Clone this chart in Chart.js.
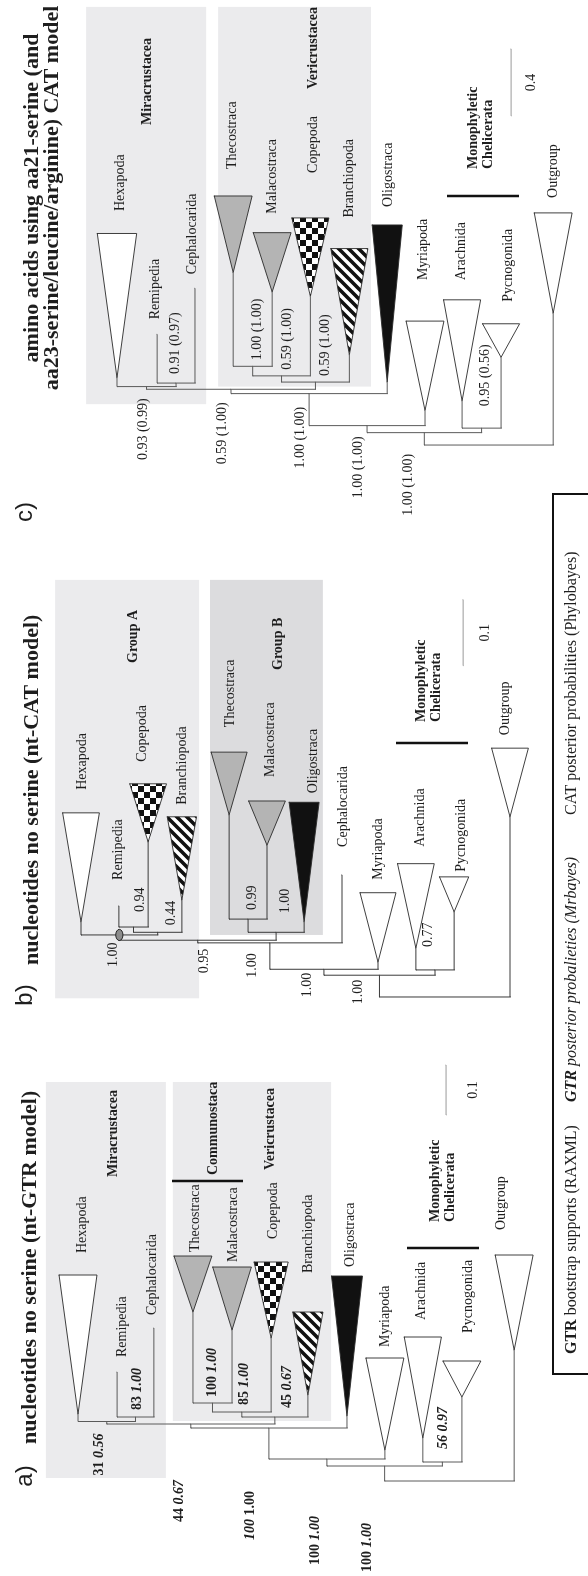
<!DOCTYPE html>
<html>
<head>
<meta charset="utf-8">
<script src="https://cdn.jsdelivr.net/npm/chart.js@4.4.0/dist/chart.umd.min.js"></script>
<style>
html, body { margin: 0; padding: 0; background: #fff; }
#wrap { position: relative; width: 588px; height: 1576px; overflow: hidden; }
#wrap canvas { position: absolute; left: 0; top: 0; }
</style>
</head>
<body>
<div id="wrap">
  <canvas id="panelC" width="588" height="1576"></canvas>
  <canvas id="panelB" width="588" height="1576"></canvas>
  <canvas id="panelA" width="588" height="1576"></canvas>
</div>
<script>
// ---------- a) nucleotides no serine, nt-GTR ----------
const taxaA = ['Hexapoda', 'Remipedia', 'Cephalocarida', 'Thecostraca', 'Malacostraca', 'Copepoda',
  'Branchiopoda', 'Oligostraca', 'Myriapoda', 'Arachnida', 'Pycnogonida', 'Outgroup'];
const slotA = [0, 1.01, 1.96, 2.97, 3.98, 4.99, 5.94, 6.95, 7.93, 8.91, 9.92, 11.27];
const tipDepthA = [0.134, 0.218, 0.306, 0.338, 0.302, 0.286, 0.172, 0.130, 0.062, 0.086, 0.168, 0.262];
const cladeDepthA = [0.412, null, null, 0.450, 0.428, 0.438, 0.338, 0.410, 0.246, 0.288, 0.240, 0.452];
const cladeHalfA = [0.49, 0, 0, 0.49, 0.50, 0.44, 0.39, 0.40, 0.49, 0.48, 0.49, 0.49];
const nodesA = [
  ['remiCeph', ['Remipedia', 'Cephalocarida'], 0.128],
  ['mira', ['Hexapoda', 'remiCeph'], 0.119],
  ['theMal', ['Thecostraca', 'Malacostraca'], 0.156],
  ['n85', ['theMal', 'Copepoda'], 0.138],
  ['veri', ['n85', 'Branchiopoda'], 0.128],
  ['n44', ['mira', 'veri'], 0.114],
  ['pancr', ['n44', 'Oligostraca'], 0.106],
  ['mandib', ['pancr', 'Myriapoda'], 0.044],
  ['cheli', ['Arachnida', 'Pycnogonida'], 0.038],
  ['arthro', ['mandib', 'cheli'], 0.030],
  ['root', ['arthro', 'Outgroup'], 0]
];
// bootstrap (bold) + MrBayes posterior (bold italic)
const supportA = {
  remiCeph: [['83 ', 'b'], ['1.00', 'bi']],
  mira: [['31 ', 'b'], ['0.56', 'bi']],
  theMal: [['100 ', 'b'], ['1.00', 'bi']],
  n85: [['85 ', 'b'], ['1.00', 'bi']],
  veri: [['45 ', 'b'], ['0.67', 'bi']],
  n44: [['44 ', 'b'], ['0.67', 'bi']],
  pancr: [['100 ', 'bi'], ['1.00', 'b']],
  mandib: [['100 ', 'b'], ['1.00', 'bi']],
  arthro: [['100 ', 'b'], ['1.00', 'bi']],
  cheli: [['56 ', 'bi'], ['0.97', 'bi']]
};

// ---------- b) nucleotides no serine, nt-CAT ----------
const taxaB = ['Hexapoda', 'Remipedia', 'Copepoda', 'Branchiopoda', 'Thecostraca', 'Malacostraca',
  'Oligostraca', 'Cephalocarida', 'Myriapoda', 'Arachnida', 'Pycnogonida', 'Outgroup'];
const slotB = [0, 1.01, 1.79, 2.69, 3.95, 4.96, 5.95, 6.96, 7.92, 8.93, 9.95, 11.44];
const tipDepthB = [0.114, 0.138, 0.235, 0.147, 0.276, 0.230, 0.114, 0.185, 0.053, 0.074, 0.129, 0.273];
const cladeDepthB = [0.279, null, 0.323, 0.273, 0.371, 0.297, 0.295, null, 0.158, 0.202, 0.182, 0.377];
const cladeHalfB = [0.49, 0, 0.49, 0.39, 0.48, 0.49, 0.40, 0, 0.48, 0.49, 0.39, 0.49];
const nodesB = [
  ['remiCope', ['Remipedia', 'Copepoda'], 0.106],
  ['copeBra', ['remiCope', 'Branchiopoda'], 0.098],
  ['groupA', ['Hexapoda', 'copeBra'], 0.094],
  ['theMal', ['Thecostraca', 'Malacostraca'], 0.118],
  ['groupB', ['theMal', 'Oligostraca'], 0.098],
  ['ab', ['groupA', 'groupB'], 0.086],
  ['abCeph', ['ab', 'Cephalocarida'], 0.082],
  ['mandib', ['abCeph', 'Myriapoda'], 0.042],
  ['cheli', ['Arachnida', 'Pycnogonida'], 0.041],
  ['arthro', ['mandib', 'cheli'], 0.033],
  ['root', ['arthro', 'Outgroup'], 0]
];
const supportB = {
  remiCope: '0.94', copeBra: '0.44', groupA: '1.00', theMal: '0.99', groupB: '1.00',
  ab: '0.95', abCeph: '1.00', mandib: '1.00', arthro: '1.00', cheli: '0.77'
};

// ---------- c) amino acids, CAT ----------
const taxaC = ['Hexapoda', 'Remipedia', 'Cephalocarida', 'Thecostraca', 'Malacostraca', 'Copepoda',
  'Branchiopoda', 'Oligostraca', 'Myriapoda', 'Arachnida', 'Pycnogonida', 'Outgroup'];
const slotC = [0, 1.04, 2.02, 3.01, 4.02, 5.01, 6.02, 7.00, 7.98, 8.94, 9.95, 11.30];
const tipDepthC = [0.402, 0.661, 0.936, 1.030, 0.914, 0.888, 0.539, 0.376, 0.207, 0.264, 0.524, 0.787];
const cladeDepthC = [1.263, null, null, 1.487, 1.268, 1.356, 1.173, 1.314, 0.740, 0.867, 0.724, 1.386];
const cladeHalfC = [0.51, 0, 0, 0.49, 0.49, 0.48, 0.48, 0.39, 0.49, 0.48, 0.48, 0.49];
const nodesC = [
  ['remiCeph', ['Remipedia', 'Cephalocarida'], 0.370],
  ['mira', ['Hexapoda', 'remiCeph'], 0.349],
  ['theMal', ['Thecostraca', 'Malacostraca'], 0.470],
  ['n59', ['theMal', 'Copepoda'], 0.413],
  ['veri', ['n59', 'Branchiopoda'], 0.376],
  ['miraVeri', ['mira', 'veri'], 0.333],
  ['pancr', ['miraVeri', 'Oligostraca'], 0.307],
  ['mandib', ['pancr', 'Myriapoda'], 0.116],
  ['cheli', ['Arachnida', 'Pycnogonida'], 0.101],
  ['arthro', ['mandib', 'cheli'], 0.074],
  ['root', ['arthro', 'Outgroup'], 0]
];
const supportC = {
  remiCeph: '0.91 (0.97)', mira: '0.93 (0.99)', theMal: '1.00 (1.00)', n59: '0.59 (1.00)',
  veri: '0.59 (1.00)', miraVeri: '0.59 (1.00)', pancr: '1.00 (1.00)', mandib: '1.00 (1.00)',
  cheli: '0.95 (0.56)', arthro: '1.00 (1.00)'
};

// ---------- layout / style ----------
const SERIF = '"Liberation Serif", "Times New Roman", serif';
const SANS = '"Liberation Sans", Arial, sans-serif';
const FONT = {
  r: '14px ' + SERIF, b: 'bold 14px ' + SERIF, bi: 'italic bold 14px ' + SERIF,
  title: 'bold 22px ' + SERIF, letter: '24px ' + SANS,
  lr: '16px ' + SERIF, lb: 'bold 16px ' + SERIF, li: 'italic 16px ' + SERIF, lbi: 'italic bold 16px ' + SERIF
};
const TEXT = '#1e1e1e';

const layoutA = {
  xRange: [-2.016, 13.178], depthRange: [-0.19, 2.962], lineColor: '#5a5a5a',
  fill: ['white', '', '', 'gray', 'gray', 'check', 'stripe', 'black', 'white', 'white', 'white', 'white'],
  labelOff: [[4, -22], [5, -15], [-2, -13], [2, -4], [1, -5], [2, -23], [0, -39], [3, -9], [0, -11], [-2, -17], [6, -28], [-13, -25]],
  supOff: { remiCeph: [1.5, -7], mira: [-7, 54], theMal: [0, -6], n85: [3, -7], veri: [13, -9], n44: [-11, 98],
    pancr: [-19, 112], mandib: [-12, 106], arthro: [-17, 106], cheli: [1.5, -13] },
  boxes: [[-0.83, 2.27, 0.006, 0.798, '#ebebed'], [2.45, 6.54, 0.120, 0.798, '#ebebed']],
  scaleBar: { slot: 9.51, from: 0.732, len: 0.1, label: '0.1', labelSlot: 10.21 },
  letter: ['a)', 25, 1476],
  titles: [['nucleotides no serine (nt-GTR model)', 30, 1444, 'start']],
  groups: [['Miracrustacea', 113, 1177], ['Communostaca', 213, 1175], ['Vericrustacea', 270, 1170]],
  mono: [435, 450, 1222],
  bars: [[172, 243, 1181], [407, 479, 1248]]
};
const layoutB = {
  xRange: [-2.16, 13.52], depthRange: [-0.8773, 1.5106], lineColor: '#3a3a3a',
  fill: ['white', '', 'check', 'stripe', 'gray', 'gray', 'black', '', 'white', 'white', 'white', 'white'],
  labelOff: [[1, -23], [-1, -26], [-6, -22], [0, -12], [1, -25], [3, -24], [9, -9], [1, -28], [0, -13], [4, -17], [7, -5], [-5, -13]],
  supOff: { remiCope: [6.5, -15], copeBra: [14, -7], groupA: [-6, 32], theMal: [4, -9], groupB: [9, -19], ab: [7, 33],
    abCeph: [-18, 35], mandib: [-17, 28], arthro: [-21, 29], cheli: [-7, -23] },
  boxes: [[-0.69, 3.15, -0.002, 0.632, '#ebebed'], [3.44, 6.45, 0.094, 0.632, '#dcdcde']],
  scaleBar: { slot: 10.19, from: 0.502, len: 0.1, label: '0.1', labelSlot: 10.77 },
  letter: ['b)', 25, 995],
  titles: [['nucleotides no serine (nt-CAT model)', 32, 965, 'start']],
  groups: [['Group A', 133, 663], ['Group B', 278, 670]],
  mono: [421, 436, 722],
  bars: [[396, 468, 743]],
  marker: 'groupA'
};
const layoutC = {
  xRange: [-3.031, 12.202], depthRange: [-6.752, 2.657], lineColor: '#5a5a5a',
  fill: ['white', '', '', 'gray', 'gray', 'check', 'stripe', 'black', 'white', 'white', 'white', 'white'],
  labelOff: [[3, -22.5], [-2, -15], [-3, -14], [-1, -27], [0, -19], [3, -45], [0, -31], [1, -18], [-2, -41], [-1, -19.5], [7, -22], [0, -15]],
  supOff: { remiCeph: [-1, -9], theMal: [4.5, -6], n59: [6, -6], veri: [10, -6], mira: [-3.5, 73.5], miraVeri: [-9, 75],
    pancr: [-9, 75], mandib: [-9, 72.6], arthro: [-16, 83], cheli: [3.5, -22] },
  boxes: [[-0.80, 2.31, 0.244, 2.616, '#ebebed'], [2.62, 6.58, 0.349, 2.616, '#ebebed']],
  scaleBar: { slot: 10.21, from: 1.965, len: 0.4, label: '0.4', labelSlot: 10.73 },
  letter: ['c)', 25, 512],
  titles: [['amino acids using aa21-serine (and', 32, 198, 'center'],
    ['aa23-serine/leucine/arginine) CAT model', 52, 198, 'center']],
  groups: [['Miracrustacea', 147, 125], ['Vericrustacea', 313, 89]],
  mono: [473, 488, 169],
  bars: [[447, 519, 196]]
};
const legendBox = { left: 553, top: 494, bottom: 1374, textX: 572 };
const legendText = [
  [[['GTR', 'lb'], [' bootstrap supports (RAXML)', 'lr']], 1354],
  [[['GTR', 'lbi'], [' posterior probalieties (Mrbayes)', 'li']], 1102],
  [[['CAT posterior probabilities (Phylobayes)', 'lr']], 815]
];

// text rotated to read bottom-to-top
function vText(ctx, x, y, runs, align) {
  ctx.save();
  ctx.translate(x, y);
  ctx.rotate(-Math.PI / 2);
  ctx.textBaseline = 'middle';
  ctx.textAlign = 'left';
  ctx.fillStyle = TEXT;
  let w = 0;
  runs.forEach(r => { ctx.font = FONT[r[1]]; w += ctx.measureText(r[0]).width; });
  let cx = align === 'center' ? -w / 2 : (align === 'end' ? -w : 0);
  runs.forEach(r => {
    ctx.font = FONT[r[1]];
    ctx.fillText(r[0], cx, 0);
    cx += ctx.measureText(r[0]).width;
  });
  ctx.restore();
}

function fillStyles(ctx) {
  const chk = document.createElement('canvas');
  chk.width = chk.height = 12;
  let g = chk.getContext('2d');
  g.fillStyle = '#fff'; g.fillRect(0, 0, 12, 12);
  g.fillStyle = '#111'; g.fillRect(0, 0, 6, 6); g.fillRect(6, 6, 6, 6);
  const str = document.createElement('canvas');
  str.width = str.height = 10;
  g = str.getContext('2d');
  g.fillStyle = '#fff'; g.fillRect(0, 0, 10, 10);
  g.strokeStyle = '#111'; g.lineWidth = 3.6;
  g.beginPath();
  g.moveTo(-5, -5); g.lineTo(15, 15);
  g.moveTo(-5, 5); g.lineTo(5, 15);
  g.moveTo(5, -5); g.lineTo(15, 5);
  g.stroke();
  return {
    white: '#ffffff', gray: '#b4b4b4', black: '#111111',
    check: ctx.createPattern(chk, 'repeat'), stripe: ctx.createPattern(str, 'repeat')
  };
}

function buildPanel(canvasId, taxa, slot, tipDepth, cladeDepth, cladeHalf, nodes, support, L, drawLegend) {
  const ctx = document.getElementById(canvasId).getContext('2d');
  const fills = fillStyles(ctx);
  const pos = {};
  taxa.forEach((t, i) => { pos[t] = { x: slot[i], y: tipDepth[i] }; });
  nodes.forEach(([id, kids, d]) => {
    const xs = kids.map(k => pos[k].x);
    pos[id] = { x: (Math.min(...xs) + Math.max(...xs)) / 2, y: d };
  });

  const datasets = [];
  const seg = (pts, extra) => Object.assign({ data: pts, borderColor: L.lineColor, borderWidth: 1, fill: false }, extra || {});
  nodes.forEach(([id, kids, d]) => {
    const xs = kids.map(k => pos[k].x);
    datasets.push(seg([{ x: Math.min(...xs), y: d }, { x: Math.max(...xs), y: d }]));
    kids.forEach(k => datasets.push(seg([{ x: pos[k].x, y: d }, { x: pos[k].x, y: pos[k].y }])));
  });
  taxa.forEach((t, i) => {
    if (cladeDepth[i] === null) return;
    const x = slot[i], h = cladeHalf[i], base = cladeDepth[i];
    datasets.push({
      data: [{ x: x - h, y: base }, { x: x, y: tipDepth[i] }, { x: x + h, y: base }, { x: x - h, y: base }],
      fill: 'shape', backgroundColor: fills[L.fill[i]], borderColor: '#2a2a2a', borderWidth: 0.9
    });
  });
  const sb = L.scaleBar;
  datasets.push(seg([{ x: sb.slot, y: sb.from }, { x: sb.slot, y: sb.from + sb.len }], { borderColor: '#9a9a9a' }));

  const decor = {
    id: 'decor_' + canvasId,
    beforeDatasetsDraw(chart) {
      const c = chart.ctx, xs = chart.scales.x, ys = chart.scales.y;
      L.boxes.forEach(([x0, x1, d0, d1, col]) => {
        const px0 = xs.getPixelForValue(x0), px1 = xs.getPixelForValue(x1);
        const py0 = ys.getPixelForValue(d1), py1 = ys.getPixelForValue(d0);
        c.fillStyle = col;
        c.fillRect(px0, py0, px1 - px0, py1 - py0);
      });
    },
    afterDatasetsDraw(chart) {
      const c = chart.ctx, xs = chart.scales.x, ys = chart.scales.y;
      // taxon names
      taxa.forEach((t, i) => {
        const d = cladeDepth[i] === null ? tipDepth[i] : cladeDepth[i];
        const off = L.labelOff[i];
        vText(c, xs.getPixelForValue(slot[i]) + off[0], ys.getPixelForValue(d) + off[1], [[t, 'r']], 'start');
      });
      // support values
      Object.keys(support).forEach(id => {
        const runs = typeof support[id] === 'string' ? [[support[id], 'r']] : support[id];
        const off = L.supOff[id];
        vText(c, xs.getPixelForValue(pos[id].x) + off[0], ys.getPixelForValue(pos[id].y) + off[1], runs, 'start');
      });
      // node marker
      if (L.marker) {
        c.save();
        c.beginPath();
        c.ellipse(xs.getPixelForValue(pos[L.marker].x), ys.getPixelForValue(pos[L.marker].y), 3.6, 5.6, 0, 0, Math.PI * 2);
        c.fillStyle = '#8c8c8c'; c.fill();
        c.strokeStyle = '#222'; c.lineWidth = 1; c.stroke();
        c.restore();
      }
      // scale bar label
      vText(c, xs.getPixelForValue(sb.labelSlot), ys.getPixelForValue(sb.from + sb.len / 2), [[sb.label, 'r']], 'center');
      // group names and brackets
      L.groups.forEach(([t, x, y]) => vText(c, x, y, [[t, 'b']], 'start'));
      vText(c, L.mono[0], L.mono[2], [['Monophyletic', 'b']], 'start');
      vText(c, L.mono[1], L.mono[2], [['Chelicerata', 'b']], 'start');
      c.save();
      c.strokeStyle = '#111'; c.lineWidth = 2.4;
      L.bars.forEach(([x0, x1, y]) => { c.beginPath(); c.moveTo(x0, y); c.lineTo(x1, y); c.stroke(); });
      c.restore();
      // title and panel letter
      L.titles.forEach(([t, x, y, al]) => vText(c, x, y, [[t, 'title']], al));
      vText(c, L.letter[1], L.letter[2], [[L.letter[0], 'letter']], 'center');
      if (drawLegend) {
        c.save();
        c.strokeStyle = '#111'; c.lineWidth = 2;
        c.beginPath();
        c.moveTo(600, legendBox.top); c.lineTo(legendBox.left, legendBox.top);
        c.lineTo(legendBox.left, legendBox.bottom); c.lineTo(600, legendBox.bottom);
        c.stroke();
        c.restore();
        legendText.forEach(([runs, y]) => vText(c, legendBox.textX, y, runs, 'start'));
      }
    }
  };

  return new Chart(ctx, {
    type: 'line',
    data: { datasets: datasets },
    options: {
      responsive: false,
      animation: false,
      events: [],
      layout: { padding: 0 },
      plugins: { legend: { display: false }, tooltip: { enabled: false } },
      elements: {
        point: { radius: 0, hitRadius: 0 },
        line: { tension: 0, borderCapStyle: 'square', borderJoinStyle: 'miter' }
      },
      scales: {
        x: { type: 'linear', min: L.xRange[0], max: L.xRange[1], display: false },
        y: { type: 'linear', min: L.depthRange[0], max: L.depthRange[1], display: false }
      }
    },
    plugins: [decor]
  });
}

buildPanel('panelC', taxaC, slotC, tipDepthC, cladeDepthC, cladeHalfC, nodesC, supportC, layoutC, false);
buildPanel('panelB', taxaB, slotB, tipDepthB, cladeDepthB, cladeHalfB, nodesB, supportB, layoutB, false);
buildPanel('panelA', taxaA, slotA, tipDepthA, cladeDepthA, cladeHalfA, nodesA, supportA, layoutA, true);
</script>
</body>
</html>
